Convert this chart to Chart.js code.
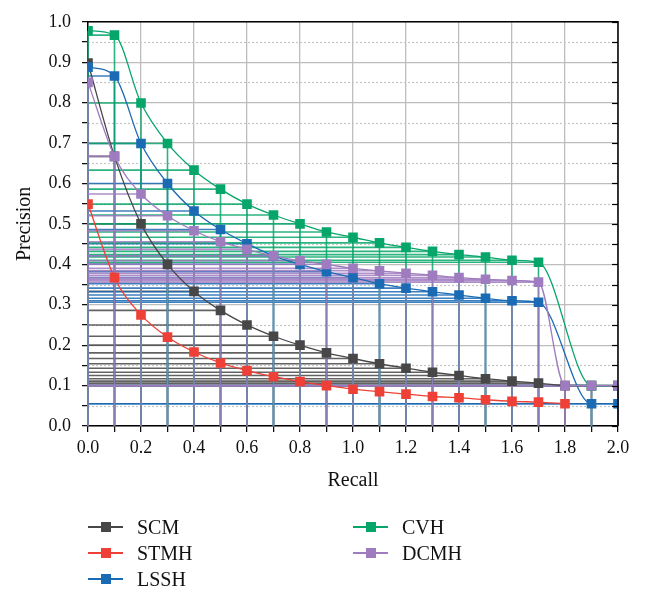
<!DOCTYPE html>
<html><head><meta charset="utf-8">
<script src="https://cdn.jsdelivr.net/npm/chart.js@4"></script>
<style>
html,body{margin:0;padding:0;background:#fff;}
#wrap{position:relative;width:645px;height:592px;overflow:hidden;}
#c{position:absolute;left:0;top:0;}
.leg{position:absolute;font-family:"Liberation Serif","DejaVu Serif",serif;font-size:20px;color:#111;height:26px;line-height:26px;}
.leg .ln{position:absolute;left:0;top:12px;width:35px;height:2px;}
.leg .sq{position:absolute;left:13px;top:8px;width:10px;height:10px;}
.leg .tx{position:absolute;left:49px;top:0;white-space:nowrap;}
</style></head>
<body><div id="wrap"><canvas id="c" width="645" height="592"></canvas></div>
<script>
// ---- data ----
const seriesNames = ['SCM', 'STMH', 'LSSH', 'CVH', 'DCMH'];
const seriesColors = ['#474747', '#ee4036', '#1b6ab4', '#06a66a', '#9f7bbf'];

const scmRecall = [0, 0.1, 0.2, 0.3, 0.4, 0.5, 0.6, 0.7, 0.8, 0.9, 1.0, 1.1, 1.2, 1.3, 1.4, 1.5, 1.6, 1.7, 1.8, 1.9, 2.0];
const scmPrecision = [0.898, 0.667, 0.5, 0.4, 0.333, 0.286, 0.25, 0.222, 0.2, 0.181, 0.167, 0.154, 0.143, 0.133, 0.125, 0.117, 0.111, 0.106, 0.1, 0.1, 0.1];

const stmhRecall = [0, 0.1, 0.2, 0.3, 0.4, 0.5, 0.6, 0.7, 0.8, 0.9, 1.0, 1.1, 1.2, 1.3, 1.4, 1.5, 1.6, 1.7, 1.8];
const stmhPrecision = [0.549, 0.367, 0.275, 0.22, 0.183, 0.156, 0.137, 0.122, 0.11, 0.1, 0.091, 0.085, 0.079, 0.073, 0.07, 0.065, 0.061, 0.059, 0.055];

const lsshRecall = [0, 0.1, 0.2, 0.3, 0.4, 0.5, 0.6, 0.7, 0.8, 0.9, 1.0, 1.1, 1.2, 1.3, 1.4, 1.5, 1.6, 1.7, 1.9, 2.0];
const lsshPrecision = [0.888, 0.866, 0.699, 0.6, 0.532, 0.486, 0.451, 0.421, 0.4, 0.382, 0.367, 0.352, 0.341, 0.332, 0.324, 0.316, 0.31, 0.306, 0.055, 0.055];

const cvhRecall = [0, 0.1, 0.2, 0.3, 0.4, 0.5, 0.6, 0.7, 0.8, 0.9, 1.0, 1.1, 1.2, 1.3, 1.4, 1.5, 1.6, 1.7, 1.9, 2.0];
const cvhPrecision = [0.978, 0.967, 0.799, 0.699, 0.633, 0.586, 0.549, 0.522, 0.5, 0.48, 0.467, 0.453, 0.442, 0.432, 0.424, 0.418, 0.41, 0.405, 0.1, 0.1];

const dcmhRecall = [0, 0.1, 0.2, 0.3, 0.4, 0.5, 0.6, 0.7, 0.8, 0.9, 1.0, 1.1, 1.2, 1.3, 1.4, 1.5, 1.6, 1.7, 1.8, 1.9, 2.0];
const dcmhPrecision = [0.85, 0.667, 0.574, 0.52, 0.483, 0.456, 0.437, 0.421, 0.409, 0.4, 0.39, 0.384, 0.378, 0.373, 0.367, 0.363, 0.36, 0.356, 0.1, 0.1, 0.1];

const xTickLabels = ['0.0', '0.2', '0.4', '0.6', '0.8', '1.0', '1.2', '1.4', '1.6', '1.8', '2.0'];
const yTickLabels = ['0.0', '0.1', '0.2', '0.3', '0.4', '0.5', '0.6', '0.7', '0.8', '0.9', '1.0'];

const recalls = [scmRecall, stmhRecall, lsshRecall, cvhRecall, dcmhRecall];
const precisions = [scmPrecision, stmhPrecision, lsshPrecision, cvhPrecision, dcmhPrecision];
const withDropLines = [true, false, true, true, true];

// ---- helpers ----
const FONT = '"Liberation Serif", "DejaVu Serif", serif';
function rgba(hex, a) {
  const n = parseInt(hex.slice(1), 16);
  return `rgba(${(n >> 16) & 255},${(n >> 8) & 255},${n & 255},${a})`;
}
const near = (v, step) => Math.abs(v / step - Math.round(v / step)) < 1e-6;
function labelFor(v, list) {
  const s = (Math.round(v * 100) / 100).toFixed(2);
  const short = s.slice(0, -1);
  return (s.endsWith('0') && list.includes(short)) ? short : '';
}

const datasets = seriesNames.map((name, i) => ({
  label: name,
  data: recalls[i].map((r, k) => ({ x: r, y: precisions[i][k] })),
  borderColor: seriesColors[i],
  backgroundColor: seriesColors[i],
  pointBackgroundColor: seriesColors[i],
  pointBorderWidth: 0,
  pointStyle: 'rect',
  pointRadius: 6.8,
  borderWidth: 1.3,
  cubicInterpolationMode: 'monotone',
  order: seriesNames.length - i
}));

const framePlugin = {
  id: 'frame',
  beforeDatasetsDraw(chart) {
    const { ctx, chartArea: a, scales: { x, y } } = chart;
    ctx.save();
    // minor dotted horizontal grid
    ctx.strokeStyle = '#c6c6c6'; ctx.lineWidth = 1.2; ctx.setLineDash([2, 2]);
    y.ticks.forEach(t => {
      if (!near(t.value, 0.1)) {
        const py = Math.round(y.getPixelForValue(t.value)) + 0.5;
        ctx.beginPath(); ctx.moveTo(a.left, py); ctx.lineTo(a.right, py); ctx.stroke();
      }
    });
    ctx.setLineDash([]);
    // drop lines
    const x0 = x.getPixelForValue(0), y0 = y.getPixelForValue(0);
    chart.data.datasets.forEach((ds, i) => {
      if (!withDropLines[i]) return;
      ctx.strokeStyle = rgba(ds.borderColor, 0.85);
      ctx.lineWidth = 1.6;
      ds.data.forEach(p => {
        const px = x.getPixelForValue(p.x), py = y.getPixelForValue(p.y);
        ctx.beginPath();
        ctx.moveTo(px, py); ctx.lineTo(px, y0);
        ctx.moveTo(px, py); ctx.lineTo(x0, py);
        ctx.stroke();
      });
    });
    ctx.restore();
  },
  afterDraw(chart) {
    const { ctx, chartArea: a, scales: { y } } = chart;
    ctx.save();
    ctx.strokeStyle = '#000'; ctx.lineWidth = 1.5;
    ctx.beginPath();
    ctx.moveTo(a.left, a.top); ctx.lineTo(a.right, a.top); ctx.lineTo(a.right, a.bottom);
    ctx.stroke();
    ctx.lineWidth = 1.2;
    y.ticks.forEach(t => {
      const py = Math.round(y.getPixelForValue(t.value)) + 0.5;
      ctx.beginPath(); ctx.moveTo(a.right - 6, py); ctx.lineTo(a.right, py); ctx.stroke();
    });
    ctx.restore();
  }
};

new Chart(document.getElementById('c'), {
  type: 'line',
  data: { datasets },
  plugins: [framePlugin],
  options: {
    responsive: false,
    animation: false,
    events: [],
    layout: { padding: { top: 16, right: 27, bottom: 92, left: 0 } },
    plugins: { legend: { display: false }, tooltip: { enabled: false } },
    scales: {
      x: {
        type: 'linear', min: 0, max: 2,
        afterFit: s => { s.height = 74; },
        ticks: {
          stepSize: 0.1, autoSkip: false, maxRotation: 0, padding: 5,
          color: '#111', font: { family: FONT, size: 18 },
          callback: v => labelFor(v, xTickLabels)
        },
        grid: {
          color: c => near(c.tick.value, 0.2) ? '#bdbdbd' : 'rgba(0,0,0,0)',
          lineWidth: 1.3, tickColor: '#000', tickLength: 6, tickWidth: 1.2
        },
        border: { color: '#000', width: 1.5 },
        title: { display: true, text: 'Recall', color: '#111', font: { family: FONT, size: 20 }, padding: { top: 0, bottom: 7 } }
      },
      y: {
        type: 'linear', min: 0, max: 1,
        afterFit: s => { s.width = 88; },
        ticks: {
          stepSize: 0.05, autoSkip: false, padding: 11,
          color: '#111', font: { family: FONT, size: 18 },
          callback: v => labelFor(v, yTickLabels)
        },
        grid: {
          color: c => near(c.tick.value, 0.1) ? '#bdbdbd' : 'rgba(0,0,0,0)',
          lineWidth: 1.3, tickColor: '#000', tickLength: 6, tickWidth: 1.2
        },
        border: { color: '#000', width: 1.5 },
        title: { display: true, text: 'Precision', color: '#111', font: { family: FONT, size: 20 }, padding: { top: 13, bottom: 0 } }
      }
    }
  }
});

// ---- HTML legend (two columns, column-major) ----
const wrap = document.getElementById('wrap');
const legCols = [88, 353];
const legRows = [514, 540, 566];
seriesNames.forEach((name, i) => {
  const col = Math.floor(i / 3), row = i % 3;
  const el = document.createElement('div');
  el.className = 'leg';
  el.style.left = legCols[col] + 'px';
  el.style.top = legRows[row] + 'px';
  el.innerHTML = `<div class="ln" style="background:${seriesColors[i]}"></div><div class="sq" style="background:${seriesColors[i]}"></div><div class="tx">${name}</div>`;
  wrap.appendChild(el);
});
</script></body></html>
